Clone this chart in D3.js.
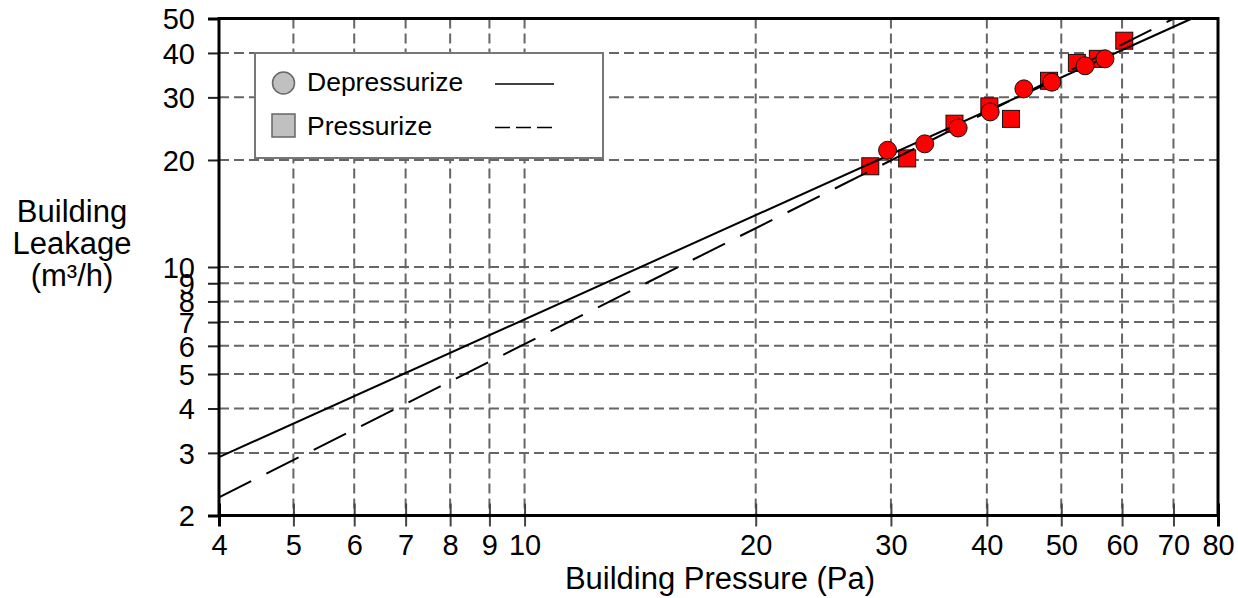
<!DOCTYPE html>
<html>
<head>
<meta charset="utf-8">
<script src="https://cdn.jsdelivr.net/npm/d3@7"></script>
<style>
body { margin: 0; background: #fff; }
text { font-family: Arial, "Liberation Sans", sans-serif; fill: #000; }
</style>
</head>
<body>
<svg id="chart" width="1238" height="598"></svg>
<script>
// tick values
var xTicks = [4, 5, 6, 7, 8, 9, 10, 20, 30, 40, 50, 60, 70, 80];
var yTicks = [2, 3, 4, 5, 6, 7, 8, 9, 10, 20, 30, 40, 50];

// measured points (Pa, m3/h)
var depX = [29.7, 33.2, 36.7, 40.4, 44.7, 48.6, 53.7, 57.0];
var depY = [21.3, 22.2, 24.6, 27.3, 31.7, 33.1, 36.8, 38.5];
var presX = [28.2, 31.5, 36.3, 40.3, 43.0, 48.2, 52.4, 55.8, 60.4];
var presY = [19.2, 20.2, 25.3, 28.3, 26.1, 33.4, 37.5, 38.5, 43.3];

// fitted power-law lines, end points
var depLine = [[4, 2.92], [74.0, 50]];
var presLine = [[4, 2.25], [70.1, 50]];

var legendNames = ["Depressurize", "Pressurize"];

drawChart();

function drawChart() {
    var svg = d3.select("#chart");
    var left = 219, right = 1218, top = 18.5, bottom = 515.5;

    var x = d3.scaleLog().domain([4, 80]).range([left, right]);
    var y = d3.scaleLog().domain([2, 50]).range([bottom, top]);

    // grid
    svg.append("g").selectAll("line")
        .data(xTicks.slice(1, -1))
        .enter().append("line")
        .attr("x1", d => x(d)).attr("x2", d => x(d))
        .attr("y1", top).attr("y2", bottom)
        .attr("stroke", "#666").attr("stroke-width", 2)
        .attr("stroke-dasharray", "10,5");
    svg.append("g").selectAll("line")
        .data(yTicks.slice(1, -1))
        .enter().append("line")
        .attr("x1", left).attr("x2", right)
        .attr("y1", d => y(d)).attr("y2", d => y(d))
        .attr("stroke", "#666").attr("stroke-width", 2)
        .attr("stroke-dasharray", "10,5");

    // axes
    var xAxis = svg.append("g")
        .attr("transform", "translate(0," + bottom + ")")
        .call(d3.axisBottom(x).tickValues(xTicks).tickFormat(d3.format("d")).tickSize(11).tickPadding(5));
    xAxis.select(".domain").remove();
    xAxis.selectAll(".tick line")
        .attr("y1", -12)
        .attr("stroke", (d, i) => (i == 0 || i == xTicks.length - 1) ? "#000" : "#444")
        .attr("stroke-width", (d, i) => (i == 0 || i == xTicks.length - 1) ? 3 : 2);
    xAxis.selectAll(".tick text")
        .attr("y", 0).attr("dy", null)
        .attr("transform", "translate(0,39)")
        .style("font-size", "29px")
        .style("font-family", "Arial, 'Liberation Sans', sans-serif");

    var yAxis = svg.append("g")
        .attr("transform", "translate(" + left + ",0)")
        .call(d3.axisLeft(y).tickValues(yTicks).tickFormat(d3.format("d")).tickSize(11).tickPadding(13));
    yAxis.select(".domain").remove();
    yAxis.selectAll(".tick line")
        .attr("stroke", (d, i) => (i == 0 || i == yTicks.length - 1) ? "#000" : "#222")
        .attr("stroke-width", (d, i) => (i == 0 || i == yTicks.length - 1) ? 3 : 2);
    yAxis.selectAll(".tick text")
        .attr("dy", "0.36em")
        .style("font-size", "29px")
        .style("font-family", "Arial, 'Liberation Sans', sans-serif");

    // frame
    svg.append("rect")
        .attr("x", left).attr("y", top)
        .attr("width", right - left).attr("height", bottom - top)
        .attr("fill", "none").attr("stroke", "#000").attr("stroke-width", 3);

    // squares
    svg.append("g").selectAll("rect")
        .data(presX)
        .enter().append("rect")
        .attr("x", (d, i) => x(d) - 8.5)
        .attr("y", (d, i) => y(presY[i]) - 8.5)
        .attr("width", 17).attr("height", 17)
        .attr("fill", "#ff0000").attr("stroke", "#111").attr("stroke-width", 1);

    // fitted lines
    var line = d3.line().x(d => x(d[0])).y(d => y(d[1]));
    svg.append("path").datum(depLine)
        .attr("d", line).attr("fill", "none")
        .attr("stroke", "#000").attr("stroke-width", 2);
    svg.append("path").datum(presLine)
        .attr("d", line).attr("fill", "none")
        .attr("stroke", "#000").attr("stroke-width", 2)
        .attr("stroke-dasharray", "36,17");

    // circles
    svg.append("g").selectAll("circle")
        .data(depX)
        .enter().append("circle")
        .attr("cx", d => x(d))
        .attr("cy", (d, i) => y(depY[i]))
        .attr("r", 9)
        .attr("fill", "#ff0000").attr("stroke", "#111").attr("stroke-width", 1);

    // legend
    var lg = svg.append("g");
    lg.append("rect")
        .attr("x", 255).attr("y", 53).attr("width", 348).attr("height", 105)
        .attr("fill", "#fff").attr("stroke", "#777").attr("stroke-width", 2);
    lg.append("circle").attr("cx", 283.5).attr("cy", 83)
        .attr("r", 11).attr("fill", "#c0c0c0").attr("stroke", "#666").attr("stroke-width", 1.5);
    lg.append("rect").attr("x", 272).attr("y", 114).attr("width", 23).attr("height", 23)
        .attr("fill", "#c0c0c0").attr("stroke", "#666").attr("stroke-width", 1.5);
    lg.selectAll("text.lg")
        .data(legendNames)
        .enter().append("text")
        .attr("class", "lg")
        .attr("x", 307)
        .attr("y", (d, i) => 91 + i * 44)
        .style("font-size", "26.5px")
        .text(d => d);
    lg.append("line").attr("x1", 495).attr("x2", 554).attr("y1", 84).attr("y2", 84)
        .attr("stroke", "#000").attr("stroke-width", 1.5);
    lg.append("line").attr("x1", 495).attr("x2", 554).attr("y1", 127.5).attr("y2", 127.5)
        .attr("stroke", "#000").attr("stroke-width", 1.5).attr("stroke-dasharray", "15,6");

    // titles
    svg.append("text")
        .attr("x", 720).attr("y", 589)
        .attr("text-anchor", "middle")
        .style("font-size", "31px")
        .text("Building Pressure (Pa)");
    svg.append("text")
        .attr("text-anchor", "middle")
        .style("font-size", "31px")
        .selectAll("tspan")
        .data(["Building", "Leakage", "(m³/h)"])
        .enter().append("tspan")
        .attr("x", 72)
        .attr("y", (d, i) => 222 + i * 32)
        .text(d => d);
}
</script>
</body>
</html>
